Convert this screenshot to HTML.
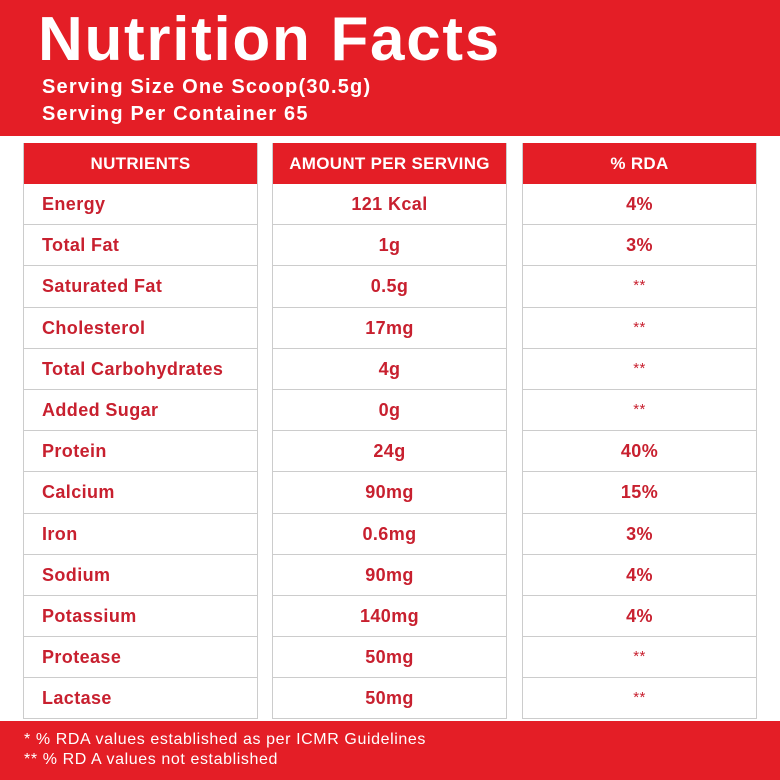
<!DOCTYPE html><html><head><style>
body{margin:0;width:780px;height:780px;background:#fff;position:relative;overflow:hidden;font-family:"Liberation Sans",sans-serif}
.top{position:absolute;left:0;top:0;width:780px;height:136px;background:#e41e26;color:#fff}
.t{position:absolute;left:38px;top:4px;font-size:62px;font-weight:bold;letter-spacing:1.7px}
.s{position:absolute;left:42px;font-size:20px;font-weight:bold;letter-spacing:1.2px}
.col{position:absolute;top:143px;width:233px;border:1px solid #ccc;border-top:none}
.h{height:41px;background:#e41e26;color:#fff;font-weight:bold;font-size:17px;text-align:center;line-height:41px;letter-spacing:0.3px}
.r{height:40.2px;border-top:1px solid #ccc;color:#c8202f;font-size:18px;font-weight:bold;line-height:40px;text-align:center;letter-spacing:0.4px}
.st{font-weight:normal;font-size:15px}
.c1 .r{text-align:left;padding-left:18px}
.foot{position:absolute;left:0;top:721px;width:780px;height:59px;background:#e41e26;color:#fff;font-size:16px;line-height:20px;padding:9px 0 0 24px;box-sizing:border-box;letter-spacing:0.6px}
</style></head><body>
<div class="top"><div class="t">Nutrition Facts</div><div class="s" style="top:76px">Serving Size One Scoop(30.5g)</div><div class="s" style="top:103px">Serving Per Container 65</div></div>
<div class="col c1" style="left:23px"><div class="h">NUTRIENTS</div>
<div class="r" style="border-top:none">Energy</div><div class="r">Total Fat</div><div class="r">Saturated Fat</div><div class="r">Cholesterol</div><div class="r">Total Carbohydrates</div><div class="r">Added Sugar</div><div class="r">Protein</div><div class="r">Calcium</div><div class="r">Iron</div><div class="r">Sodium</div><div class="r">Potassium</div><div class="r">Protease</div><div class="r">Lactase</div></div>
<div class="col" style="left:272px"><div class="h">AMOUNT PER SERVING</div>
<div class="r" style="border-top:none">121 Kcal</div><div class="r">1g</div><div class="r">0.5g</div><div class="r">17mg</div><div class="r">4g</div><div class="r">0g</div><div class="r">24g</div><div class="r">90mg</div><div class="r">0.6mg</div><div class="r">90mg</div><div class="r">140mg</div><div class="r">50mg</div><div class="r">50mg</div></div>
<div class="col" style="left:522px"><div class="h">% RDA</div>
<div class="r" style="border-top:none">4%</div><div class="r">3%</div><div class="r st">**</div><div class="r st">**</div><div class="r st">**</div><div class="r st">**</div><div class="r">40%</div><div class="r">15%</div><div class="r">3%</div><div class="r">4%</div><div class="r">4%</div><div class="r st">**</div><div class="r st">**</div></div>
<div class="foot">* % RDA values established as per ICMR Guidelines<br>** % RD A values not established</div>
</body></html>
